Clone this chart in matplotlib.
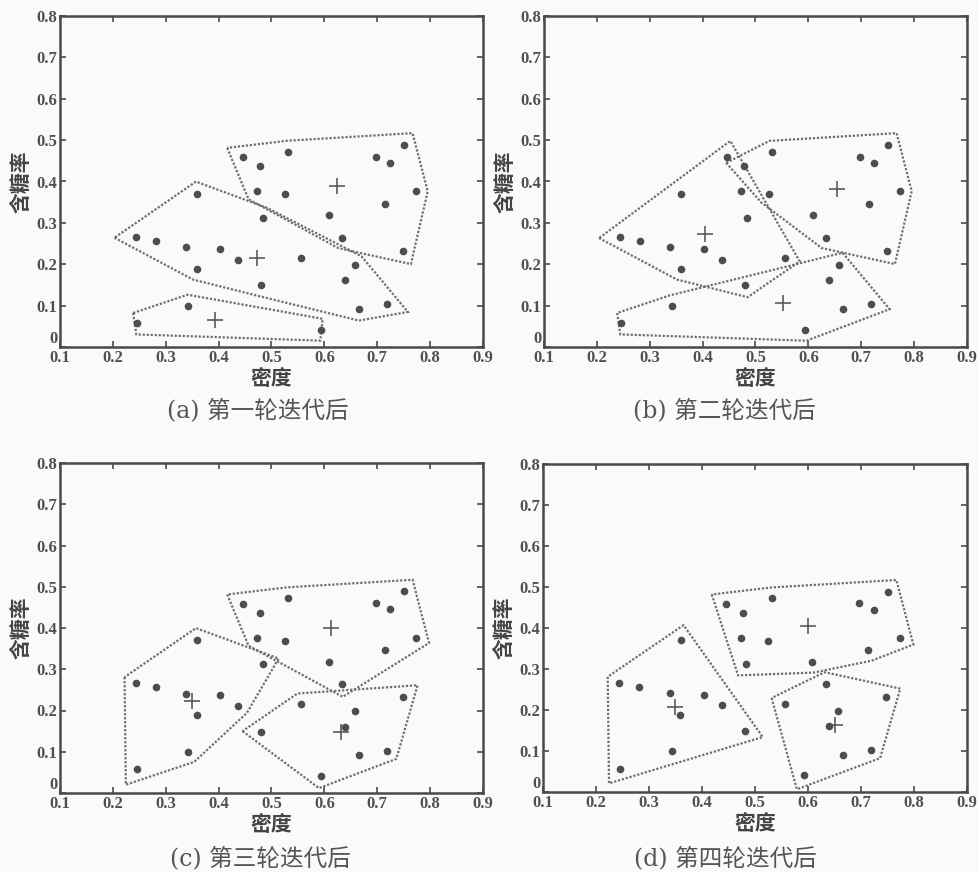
import matplotlib
matplotlib.use('Agg')
import matplotlib.pyplot as plt
import numpy as np
from matplotlib.patches import Polygon

# watermelon samples: density / sugar content
density = [0.697, 0.774, 0.634, 0.608, 0.556, 0.403, 0.481, 0.437, 0.666, 0.243,
           0.245, 0.343, 0.639, 0.657, 0.360, 0.593, 0.719, 0.359, 0.339, 0.282,
           0.748, 0.714, 0.483, 0.478, 0.525, 0.751, 0.532, 0.473, 0.725, 0.446]
sugar = [0.460, 0.376, 0.264, 0.318, 0.215, 0.237, 0.149, 0.211, 0.091, 0.267,
         0.057, 0.099, 0.161, 0.198, 0.370, 0.042, 0.103, 0.188, 0.241, 0.257,
         0.232, 0.346, 0.312, 0.437, 0.369, 0.489, 0.472, 0.376, 0.445, 0.459]

# cluster of each sample after each iteration
labels_a = [2, 2, 2, 2, 0, 0, 0, 0, 0, 0, 1, 1, 0, 0, 0, 1, 0, 0, 0, 0,
            2, 2, 0, 2, 2, 2, 2, 2, 2, 2]
labels_b = [2, 2, 2, 2, 0, 0, 0, 0, 1, 0, 1, 1, 1, 1, 0, 1, 1, 0, 0, 0,
            2, 2, 0, 2, 2, 2, 2, 0, 2, 0]
labels_c = [2, 2, 2, 2, 1, 0, 1, 0, 1, 0, 0, 0, 1, 1, 0, 1, 1, 0, 0, 0,
            1, 2, 0, 2, 2, 2, 2, 2, 2, 2]
labels_d = [2, 2, 1, 2, 1, 0, 0, 0, 1, 0, 0, 0, 1, 1, 0, 1, 1, 0, 0, 0,
            1, 2, 2, 2, 2, 2, 2, 2, 2, 2]

captions = ['(a) 第一轮迭代后', '(b) 第二轮迭代后', '(c) 第三轮迭代后', '(d) 第四轮迭代后']
x_ticks = [0.1, 0.2, 0.3, 0.4, 0.5, 0.6, 0.7, 0.8, 0.9]
y_ticks = [0, 0.1, 0.2, 0.3, 0.4, 0.5, 0.6, 0.7, 0.8]

W, H = 979, 872
BG = '#fafaf8'
INK = '#4a4a4a'


def convex_hull(pts):
    """Monotone chain, counter-clockwise."""
    pts = sorted(map(tuple, pts))
    def cross(o, a, b):
        return (a[0] - o[0]) * (b[1] - o[1]) - (a[1] - o[1]) * (b[0] - o[0])
    lower, upper = [], []
    for p in pts:
        while len(lower) >= 2 and cross(lower[-2], lower[-1], p) <= 0:
            lower.pop()
        lower.append(p)
    for p in reversed(pts):
        while len(upper) >= 2 and cross(upper[-2], upper[-1], p) <= 0:
            upper.pop()
        upper.append(p)
    return np.array(lower[:-1] + upper[:-1])


def cluster_outline(ax, xs, ys, d=11):
    # work in pixels so the margin looks even on both axes
    P = ax.transData.transform(np.column_stack([xs, ys]))
    hull = convex_hull(P)
    n = len(hull)
    out = []
    for i in range(n):
        p0, p1, p2 = hull[i - 1], hull[i], hull[(i + 1) % n]
        e1, e2 = p1 - p0, p2 - p1
        n1 = np.array([e1[1], -e1[0]]) / np.hypot(*e1)
        n2 = np.array([e2[1], -e2[0]]) / np.hypot(*e2)
        a, b = p0 - p1, p2 - p1
        ang = np.arccos(np.clip(np.dot(a, b) / (np.hypot(*a) * np.hypot(*b)), -1, 1))
        if ang < np.radians(45):
            out.append(p1 + d * n1)
            out.append(p1 + d * n2)
        else:
            out.append(p1 + d * (n1 + n2) / (1 + np.dot(n1, n2)))
    return ax.transData.inverted().transform(np.array(out))


def draw_panel(ax, labels):
    ax.set_facecolor(BG)
    ax.set_xlim(0.1, 0.9)
    ax.set_ylim(0, 0.8)
    ax.set_xticks(x_ticks)
    ax.set_yticks(y_ticks)
    ax.set_xticklabels([f'{t:g}' for t in x_ticks])
    ax.set_yticklabels([f'{t:g}' for t in y_ticks])
    ax.tick_params(direction='in', length=4, width=1.2, color=INK, top=True, right=True,
                   labelsize=12, labelcolor='#505050', pad=2)
    for lab in ax.get_xticklabels() + ax.get_yticklabels():
        lab.set_fontfamily('Liberation Serif')
        lab.set_fontweight('bold')
    # the "0" of the y axis sits just above the "0.1" of the x axis
    ax.get_yticklabels()[0].set_verticalalignment('bottom')
    for s in ax.spines.values():
        s.set_color(INK)
        s.set_linewidth(1.8)

    x = np.array(density)
    y = np.array(sugar)
    lab = np.array(labels)
    for k in range(3):
        m = lab == k
        poly = cluster_outline(ax, x[m], y[m])
        ax.add_patch(Polygon(poly, closed=True, fill=False, edgecolor='#6e6e6e',
                             linewidth=1.6, linestyle=(0, (1.0, 0.8))))
        ax.plot(x[m].mean(), y[m].mean(), marker='+', color='#5a5a5a',
                markersize=11, markeredgewidth=1.2, linestyle='none')
    ax.plot(x, y, 'o', color='#4d4d4d', markersize=5.5, markeredgewidth=0)

    ax.set_xlabel('密度', fontfamily='Noto Sans CJK SC', fontweight='bold',
                  fontsize=15, color='#444444')
    ax.set_ylabel('含糖率', fontfamily='Noto Sans CJK SC', fontweight='bold',
                  fontsize=15, color='#444444')


fig = plt.figure(figsize=(W / 100, H / 100), dpi=100, facecolor=BG)

# axes boxes in pixels: left, right, top, bottom
boxes = [(60, 483, 16, 347), (544, 967, 16, 347), (60, 483, 463, 793), (543, 967, 464, 792)]
all_labels = [labels_a, labels_b, labels_c, labels_d]
cap_pos = [(258, 410), (724, 410), (260, 858), (725, 858)]

for (l, r, t, b), labels, cap, (cx, cy) in zip(boxes, all_labels, captions, cap_pos):
    ax = fig.add_axes([l / W, 1 - b / H, (r - l) / W, (b - t) / H])
    draw_panel(ax, labels)
    ax.xaxis.set_label_coords(0.5, -21 / (b - t))
    ax.yaxis.set_label_coords(-28 / (r - l), 0.5)
    fig.text(cx / W, 1 - cy / H, cap, ha='center', va='center', fontsize=17,
             family=['DejaVu Serif', 'Noto Sans CJK SC'], color='#555555')

fig.savefig('out.png', dpi=100, facecolor=BG)
